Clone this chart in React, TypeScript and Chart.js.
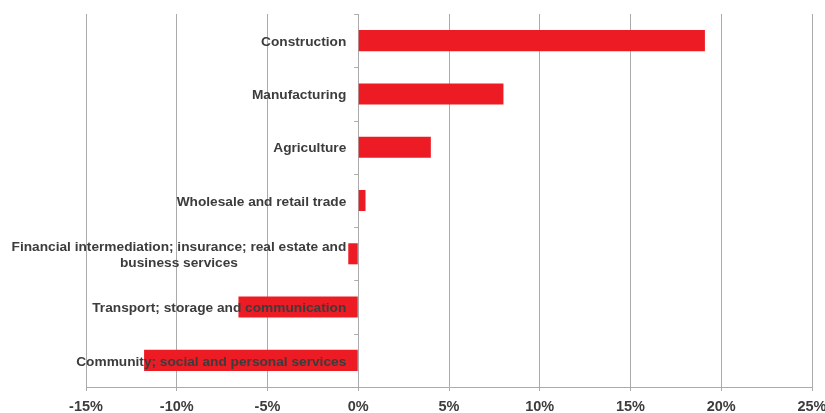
import React, { useEffect, useRef } from "react";
import { Chart, registerables } from "chart.js";

Chart.register(...registerables);

// Sectors, top to bottom; multi-line names are given as arrays of lines
const sectors: (string | string[])[] = [
  "Construction",
  "Manufacturing",
  "Agriculture",
  "Wholesale and retail trade",
  ["Financial intermediation; insurance; real estate and", "business services"],
  "Transport; storage and communication",
  "Community; social and personal services",
];

// Change by sector, in percent
const changePct: number[] = [19.1, 8.0, 4.0, 0.4, -0.55, -6.6, -11.8];

const axisMin = -15;
const axisMax = 25;
const axisStep = 5;

const FONT = "'Liberation Sans', Arial, Helvetica, sans-serif";
const TEXT_COLOR = "#3c3c3c";
const GRID_COLOR = "#ababab";
const BAR_COLOR = "#ed1c24";

// Sector names sit just left of the zero line, over the bars
const sectorLabelPlugin = {
  id: "sectorLabels",
  afterDatasetsDraw(chart: any) {
    const { ctx, scales } = chart;
    const x0 = scales.x.getPixelForValue(0);
    const yScale = scales.y;
    ctx.save();
    ctx.font = `bold 13.7px ${FONT}`;
    ctx.fillStyle = TEXT_COLOR;
    ctx.textBaseline = "middle";
    const lineH = 16.5;
    const right = x0 - 12;
    sectors.forEach((name, i) => {
      const lines = Array.isArray(name) ? name : [name];
      const cy = yScale.getPixelForValue(i) + 1.5;
      const blockW = Math.max(...lines.map((l) => ctx.measureText(l).width));
      const centerX = right - blockW / 2;
      ctx.textAlign = "center";
      lines.forEach((l, k) => {
        const y = cy + (k - (lines.length - 1) / 2) * lineH;
        ctx.fillText(l, centerX, y);
      });
    });
    ctx.restore();
  },
  afterDraw(chart: any) {
    // small tick marks on the zero line between sectors
    const { ctx, chartArea, scales } = chart;
    const x0 = scales.x.getPixelForValue(0);
    const n = sectors.length;
    const h = (chartArea.bottom - chartArea.top) / n;
    ctx.save();
    ctx.strokeStyle = GRID_COLOR;
    ctx.lineWidth = 1;
    ctx.beginPath();
    for (let i = 0; i < n; i++) {
      const y = Math.round(chartArea.top + i * h) + 0.5;
      ctx.moveTo(x0 - 4, y);
      ctx.lineTo(x0, y);
    }
    ctx.stroke();
    ctx.restore();
  },
};

export default function App() {
  const canvasRef = useRef<HTMLCanvasElement | null>(null);

  useEffect(() => {
    if (!canvasRef.current) return;
    const chart = new Chart(canvasRef.current, {
      type: "bar",
      data: {
        labels: sectors.map((s) => (Array.isArray(s) ? s.join(" ") : s)),
        datasets: [
          {
            data: changePct,
            backgroundColor: BAR_COLOR,
            borderWidth: 0,
            barPercentage: 0.395,
            categoryPercentage: 1,
          },
        ],
      },
      options: {
        indexAxis: "y",
        animation: false,
        responsive: false,
        maintainAspectRatio: false,
        layout: { padding: { left: 86, right: 13, top: 14, bottom: 0 } },
        plugins: {
          legend: { display: false },
          tooltip: { enabled: false },
        },
        scales: {
          x: {
            min: axisMin,
            max: axisMax,
            ticks: {
              stepSize: axisStep,
              callback: (v: any) => `${v}%`,
              color: TEXT_COLOR,
              font: { family: FONT, size: 14.5, weight: "bold" },
              padding: 7,
              maxRotation: 0,
              autoSkip: false,
            },
            grid: {
              color: GRID_COLOR,
              lineWidth: 1,
              tickLength: 4,
              drawTicks: true,
            },
            border: { color: GRID_COLOR, width: 1 },
            afterFit: (scale: any) => {
              scale.paddingLeft = 0;
              scale.paddingRight = 0;
              scale.height = 26;
            },
          },
          y: {
            display: false,
            offset: true,
          },
        },
      },
      plugins: [sectorLabelPlugin],
    });
    return () => chart.destroy();
  }, []);

  return (
    <div style={{ position: "absolute", left: 0, top: 0, width: 825, height: 413, background: "#fff" }}>
      <canvas ref={canvasRef} width={825} height={413} style={{ display: "block" }} />
    </div>
  );
}
